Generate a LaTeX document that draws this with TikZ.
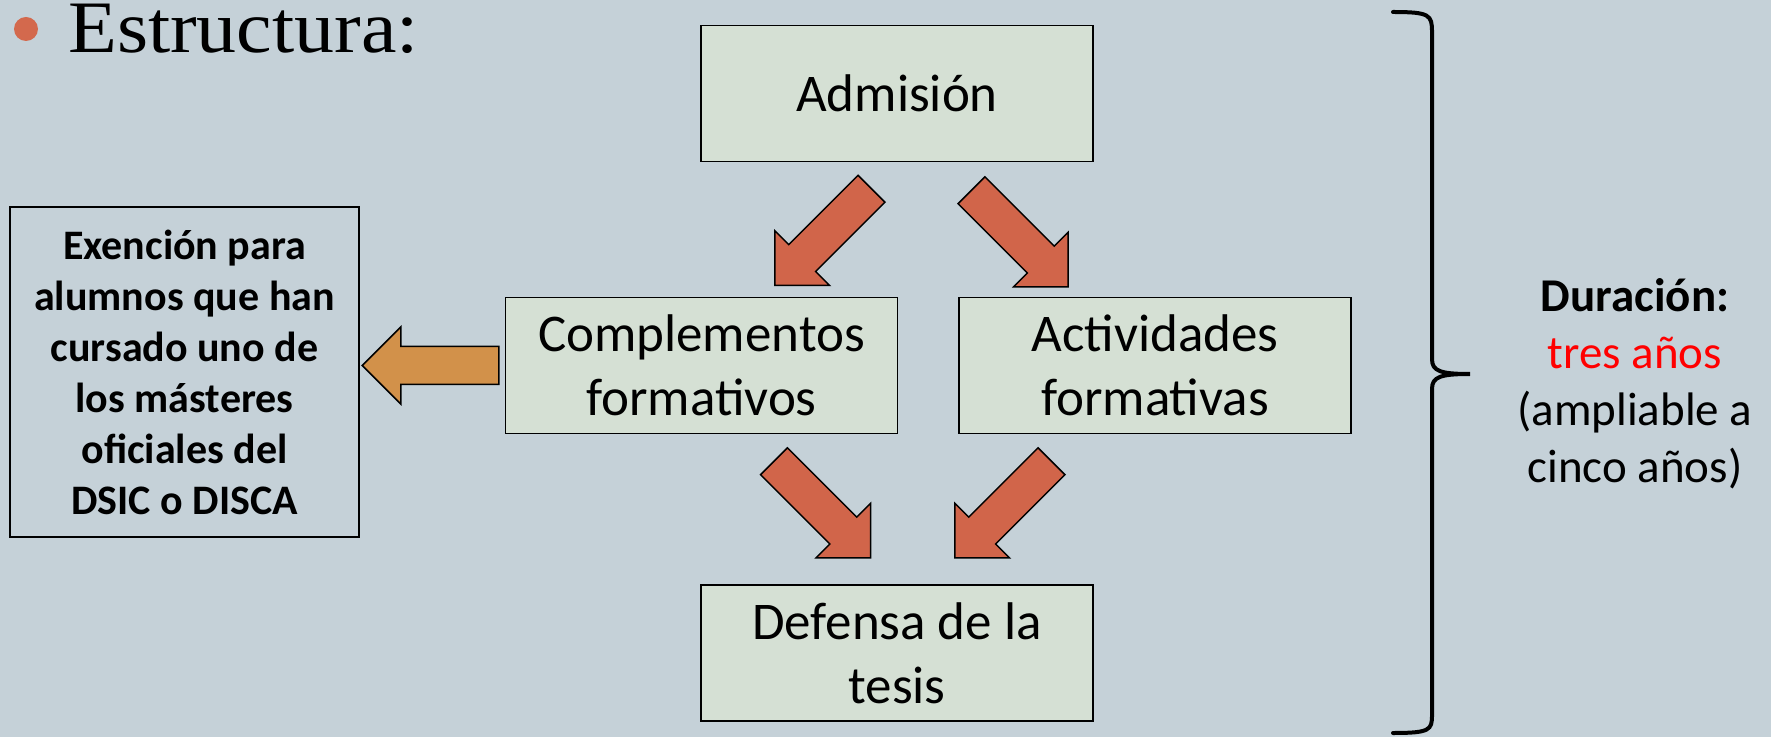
\documentclass[tikz,border=0pt]{standalone}
\usepackage{xcolor}
\usepackage{fontspec}
\setmainfont{Carlito}
\newfontfamily\titlefont[FakeStretch=1.08]{Liberation Serif}
\usetikzlibrary{calc}

\definecolor{slidebg}{RGB}{197,209,216}
\definecolor{boxfill}{RGB}{213,224,212}
\definecolor{redarrow}{RGB}{209,101,74}
\definecolor{orangearrow}{RGB}{210,145,74}
\definecolor{bulletcol}{RGB}{211,105,77}

\tikzset{
    stagebox/.style={
        draw,
        line width=1.5pt,
        fill=boxfill,
        minimum width=392pt,
        minimum height=136pt,
        inner sep=0pt,
        align=center,
        font=\fontsize{53}{64}\selectfont
    },
    blockarrow/.pic={
        \draw[
            line width=1.5pt,
            fill=#1
            ] (0,-19) -- (98,-19) -- (98,-38.5) -- (136.5,0) -- (98,38.5) -- (98,19) -- (0,19) -- cycle;
    }
}

\begin{document}
\begin{tikzpicture}[x=1pt,y=1pt]
                \useasboundingbox (0,0) rectangle (1771,737);
                \fill[slidebg] (0,0) rectangle (1771,737);

                \node[circle, fill=bulletcol, minimum size=24pt, inner sep=0pt] (dot) at (26,708) {};
                \node[anchor=base west, inner sep=0pt, font=\titlefont\fontsize{74}{74}\selectfont] (title) at (68,684) {Estructura:};

                \node[stagebox] (adm) at (897,643.5) {Admisión};
                \node[stagebox] (comp) at (701.5,371.5) {Complementos\\formativos};
                \node[stagebox] (act) at (1155,371.5) {Actividades\\formativas};
                \node[stagebox] (def) at (897,84) {Defensa de la\\tesis};

                \node[
                    draw,
                    line width=1.2pt,
                    minimum width=349pt,
                    minimum height=330pt,
                    align=center,
                    font=\bfseries\fontsize{42}{51}\selectfont
                    ] (exen) at (184.5,365) {Exención para\\alumnos que han\\cursado uno de\\los másteres\\oficiales del\\DSIC o DISCA};

                \pic[rotate=-135] at ($(adm.south)+(-25.5,-26.5)$) {blockarrow=redarrow};
                \pic[rotate=-45] at ($(adm.south)+(74.5,-28)$) {blockarrow=redarrow};
                \pic[rotate=-45] at ($(comp.south)+(72.5,-27)$) {blockarrow=redarrow};
                \pic[rotate=-135] at ($(act.south)+(-103.5,-27)$) {blockarrow=redarrow};
                \pic[rotate=180] at ($(comp.west)+(-6,0)$) {blockarrow=orangearrow};

                \draw[
                    line width=4pt,
                    line cap=round
                    ] (1393,725) .. controls (1430,725) and (1432,722) .. (1432,705)
                    -- (1432,378) .. controls (1432,366) and (1440,363) .. (1470,363)
                    .. controls (1440,363) and (1432,360) .. (1432,348)
                    -- (1432,22) .. controls (1432,7) and (1430,4) .. (1393,4);

                \node[align=center, font=\fontsize{47}{57}\selectfont] (dur) at (1635,353) {\textbf{Duración:}\\\textcolor{red}{tres años}\\(ampliable a\\cinco años)};
\end{tikzpicture}
\end{document}
